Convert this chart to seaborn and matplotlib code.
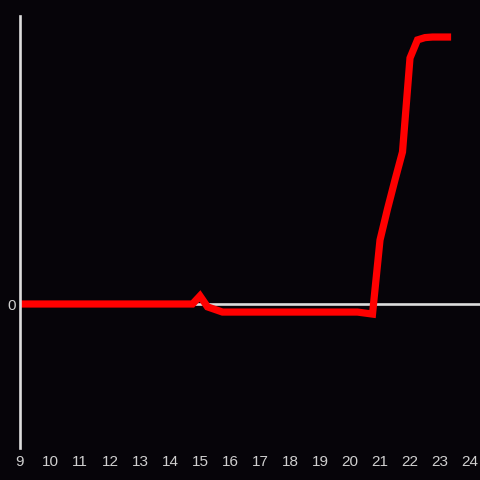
import pandas as pd
import numpy as np
import matplotlib
matplotlib.use('Agg')
import matplotlib.pyplot as plt
import seaborn as sns

# ─────────────────────────────────────────
# Data (hour of day vs value)
# ─────────────────────────────────────────
hours  = [9.0, 14.75, 15.0, 15.25, 15.75, 20.25, 20.75, 21.0, 21.25,
          21.5, 21.75, 22.0, 22.25, 22.5, 22.75, 23.0, 23.25]
values = [0.0, 0.0, 2.8, -1.0, -2.8, -2.8, -3.5, 22.2, 33.0,
          43.1, 52.8, 85.4, 91.7, 92.5, 92.7, 92.7, 92.7]
x_ticks = list(range(9, 25))
y_ticks = [0]

df = pd.DataFrame({'hour': hours, 'value': values})

bg = '#060409'
axis_col = '#dddddd'
text_col = '#cfcfcf'

sns.set_style('dark')
plt.rcParams['font.family'] = ['Liberation Sans', 'DejaVu Sans']

fig = plt.figure(figsize=(4.8, 4.8), dpi=100, facecolor=bg)
ax = fig.add_axes([20 / 480, 32 / 480, 460 / 480, 432 / 480])
ax.set_facecolor(bg)

ax.axhline(0, color=axis_col, lw=1.9, zorder=1)
sns.lineplot(data=df, x='hour', y='value', color='#ff0000', lw=5.2,
             ax=ax, zorder=2)
for ln in ax.get_lines()[1:]:
    ln.set_solid_capstyle('projecting')
    ln.set_solid_joinstyle('miter')

ax.set_xlim(9, 24 + 1 / 3)
ax.set_ylim(-50, 100)
ax.set_xticks(x_ticks)
ax.set_yticks(y_ticks)
ax.set_xticklabels([str(t) for t in x_ticks])
ax.set_yticklabels([str(t) for t in y_ticks])
ax.tick_params(axis='x', length=0, pad=5, labelsize=11, colors=text_col)
ax.tick_params(axis='y', length=0, pad=3, labelsize=11, colors=text_col)
ax.set_xlabel('')
ax.set_ylabel('')
ax.grid(False)

for side in ['top', 'right', 'bottom']:
    ax.spines[side].set_visible(False)
ax.spines['left'].set_color(axis_col)
ax.spines['left'].set_linewidth(1.9)
ax.spines['left'].set_zorder(3)

fig.savefig('out.png', dpi=100, facecolor=bg)
